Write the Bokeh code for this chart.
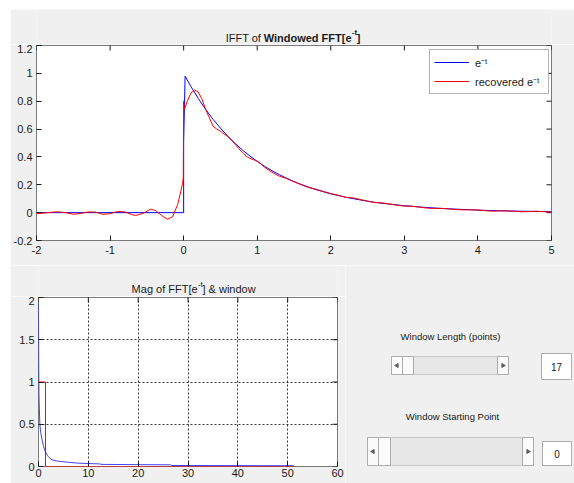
from bokeh.plotting import figure
from bokeh.layouts import column, row
from bokeh.models import Range1d, FixedTicker, Legend, LegendItem, Spacer
from bokeh.embed import file_html
from bokeh.resources import INLINE
from bokeh.core.properties import value

# ---- time signal e^-t (t in seconds) ----
t_orig = [-2.0, 0.0, 0.0, 0.02, 0.1, 0.2, 0.3, 0.4, 0.5, 0.6, 0.7, 0.8, 0.9,
          1.0, 1.1, 1.2, 1.3, 1.4, 1.5, 1.6, 1.7, 1.8, 1.9, 2.0, 2.2, 2.4,
          2.6, 2.8, 3.0, 3.25, 3.5, 3.75, 4.0, 4.25, 4.5, 4.75, 5.0]
x_orig = [0.0, 0.0, 0.5, 0.98, 0.905, 0.819, 0.741, 0.670, 0.607, 0.549,
          0.497, 0.449, 0.407, 0.368, 0.333, 0.301, 0.273, 0.247, 0.223,
          0.202, 0.183, 0.165, 0.150, 0.135, 0.111, 0.091, 0.074, 0.061,
          0.050, 0.039, 0.030, 0.024, 0.018, 0.014, 0.011, 0.009, 0.007]

# ---- signal recovered from the windowed spectrum ----
t_rec = [-2.0, -1.9, -1.8, -1.7, -1.6, -1.5, -1.4, -1.3, -1.2, -1.1, -1.0,
         -0.9, -0.8, -0.7, -0.65, -0.55, -0.45, -0.38, -0.3, -0.22, -0.15,
         -0.08, -0.04, -0.015, -0.005, 0.0, 0.01, 0.05, 0.1, 0.15, 0.2, 0.25,
         0.3, 0.35, 0.4, 0.45, 0.5, 0.55, 0.6, 0.66, 0.7, 0.75, 0.8, 0.85,
         0.9, 0.95, 1.0, 1.05, 1.1, 1.2, 1.3, 1.4, 1.5, 1.6, 1.7, 1.8, 1.9,
         2.0, 2.1, 2.2, 2.3, 2.4, 2.5, 2.6, 2.7, 2.8, 2.9, 3.0, 3.1, 3.2,
         3.3, 3.4, 3.5, 3.6, 3.7, 3.8, 3.9, 4.0, 4.1, 4.2, 4.3, 4.4, 4.5,
         4.6, 4.7, 4.8, 4.9, 5.0]
x_rec = [-0.008, -0.003, 0.003, 0.006, 0.0, -0.012, -0.006, 0.005, 0.004,
         -0.012, -0.008, 0.008, 0.006, -0.015, -0.02, -0.005, 0.025, 0.015,
         -0.02, -0.048, -0.03, 0.06, 0.15, 0.21, 0.25, 0.8, 0.74, 0.8, 0.86,
         0.88, 0.865, 0.815, 0.74, 0.68, 0.62, 0.6, 0.585, 0.565, 0.545,
         0.515, 0.49, 0.46, 0.43, 0.405, 0.39, 0.38, 0.37, 0.35, 0.325, 0.29,
         0.262, 0.245, 0.222, 0.2, 0.18, 0.168, 0.152, 0.137, 0.125, 0.11,
         0.106, 0.095, 0.082, 0.072, 0.07, 0.062, 0.053, 0.047, 0.046, 0.04,
         0.033, 0.03, 0.031, 0.027, 0.022, 0.02, 0.021, 0.019, 0.014, 0.01,
         0.013, 0.012, 0.01, 0.006, 0.008, 0.01, 0.007, 0.003]

# ---- spectrum magnitude and rectangular window ----
f_mag = [0.0, 0.05, 0.1, 0.27, 0.45, 0.74, 1.0, 1.4, 2.0, 2.4, 3.0, 3.6,
         4.4, 6.0, 7.8, 10.0, 12.4, 12.5, 15.0, 20.0, 26.5, 26.7, 35.0, 45.0,
         51.3]
mag = [1.93, 1.2, 0.82, 0.5, 0.4, 0.31, 0.24, 0.17, 0.115, 0.09, 0.075,
       0.066, 0.06, 0.05, 0.04, 0.035, 0.03, 0.025, 0.024, 0.022, 0.02,
       0.012, 0.011, 0.01, 0.009]
f_win = [0.0, 1.4, 1.4, 51.3]
win = [1.0, 1.0, 0.0, 0.0]

# ---- ticks ----
top_xticks = [-2, -1, 0, 1, 2, 3, 4, 5]
top_xlabels = ["-2", "-1", "0", "1", "2", "3", "4", "5"]
top_yticks = [-0.2, 0, 0.2, 0.4, 0.6, 0.8, 1, 1.2]
top_ylabels = ["-0.2", "0", "0.2", "0.4", "0.6", "0.8", "1", "1.2"]
bot_xticks = [0, 10, 20, 30, 40, 50, 60]
bot_xlabels = ["0", "10", "20", "30", "40", "50", "60"]
bot_yticks = [0, 0.5, 1, 1.5, 2]
bot_ylabels = ["0", "0.5", "1", "1.5", "2"]

# ---- control values ----
window_length = "17"
window_start = "0"

FONT = "Liberation Sans"
BG = "#f0f0f0"
INK = "#1a1a1a"


def box_axes(p, xt, xl, yt, yl, xstand, ystand):
    xa, ya = p.xaxis[0], p.yaxis[0]
    xa.ticker = FixedTicker(ticks=xt)
    ya.ticker = FixedTicker(ticks=yt)
    xa.major_label_overrides = {v: s for v, s in zip(xt, xl)}
    ya.major_label_overrides = {v: s for v, s in zip(yt, yl)}
    xa.major_label_standoff = xstand
    ya.major_label_standoff = ystand
    for ax in (xa, ya):
        ax.major_label_text_font_size = "11px"
        ax.major_label_text_font = FONT
        ax.major_label_text_color = INK
        ax.axis_line_color = None
        ax.major_tick_in = 5
        ax.major_tick_out = 0
        ax.major_tick_line_color = INK
        ax.minor_tick_line_color = None
    # inward ticks on the top and right edges of the box; the half of each
    # 10px dash that falls outside the frame is clipped away
    x1 = p.x_range.end
    y1 = p.y_range.end
    p.scatter(xt, [y1] * len(xt), marker="dash", size=10, angle=1.5708,
              line_color=INK, line_width=1)
    p.scatter([x1] * len(yt), yt, marker="dash", size=10,
              line_color=INK, line_width=1)
    p.outline_line_color = "#7a7a7a"
    p.outline_line_alpha = 1.0


def strip(width, height, x0, y0):
    """Plain gray band addressed in page pixels (y grows downward)."""
    s = figure(width=width, height=height, x_range=Range1d(x0, x0 + width),
               y_range=Range1d(y0 + height, y0), output_backend="svg",
               toolbar_location=None, x_axis_type=None, y_axis_type=None,
               min_border=0, background_fill_color=BG, border_fill_color=BG)
    s.grid.visible = False
    s.outline_line_color = None
    return s


def words(s, x, y, txt, size, style="normal", align="left",
          baseline="alphabetic"):
    s.text(x=[x], y=[y], text=[txt], text_font=value(FONT),
           text_font_size=value(size), text_font_style=value(style),
           text_align=value(align), text_baseline=value(baseline),
           text_color=INK)


# =================== top: time domain ===================
# title pieces are chained from the point where the superscript starts
top_title = strip(564, 35, 10, 9)
E = 355.0
words(top_title, E, 37, "Windowed FFT[e", "11px", "bold", align="right")
words(top_title, E + 0.3, 32, "-t", "8px", "bold")
words(top_title, E + 5.6, 37, "]", "11px", "bold")
words(top_title, E - 99.0, 37, "IFFT of", "11px", align="right")

top = figure(width=564, height=221, x_range=Range1d(-2, 5),
             y_range=Range1d(-0.2, 1.2), output_backend="svg",
             toolbar_location=None, min_border_left=26, min_border_right=23,
             min_border_top=1, min_border_bottom=25,
             background_fill_color="white", border_fill_color=BG)
top.grid.visible = False
box_axes(top, top_xticks, top_xlabels, top_yticks, top_ylabels, 5, 4)

r_orig = top.line(t_orig, x_orig, color="#0000ff", line_width=1)
r_rec = top.line(t_rec, x_rec, color="#ff0000", line_width=1)

legend = Legend(items=[LegendItem(label="e\u207b\u1d57", renderers=[r_orig]),
                       LegendItem(label="recovered e\u207b\u1d57", renderers=[r_rec])],
                location=(393, 146), glyph_width=35, glyph_height=16,
                label_height=16, label_width=69, spacing=3, padding=4,
                margin=0, label_standoff=6, label_text_font=FONT,
                label_text_font_size="11px", label_text_color=INK,
                border_line_color="#6a6a6a", background_fill_color="white",
                background_fill_alpha=1.0)
top.add_layout(legend)

# =================== bottom left: spectrum ===================
bot_title = strip(335, 31, 10, 265)
S = 188.3
words(bot_title, S, 288.5, "Mag of FFT[e", "11px", align="right")
words(bot_title, S + 0.3, 283.5, "-t", "8px")
words(bot_title, S + 5.4, 288.5, "] & window", "11px")

bot = figure(width=335, height=187, x_range=Range1d(0, 60),
             y_range=Range1d(0, 2), output_backend="svg",
             toolbar_location=None, min_border_left=28, min_border_right=8,
             min_border_top=1, min_border_bottom=17,
             background_fill_color="white", border_fill_color=BG)
box_axes(bot, bot_xticks, bot_xlabels, bot_yticks, bot_ylabels, 2, 4)
bot.xgrid.ticker = FixedTicker(ticks=bot_xticks)
bot.ygrid.ticker = FixedTicker(ticks=bot_yticks)
bot.grid.grid_line_color = "#222222"
bot.grid.grid_line_dash = "2 2"
bot.grid.grid_line_alpha = 0.9

bot.line(f_mag, mag, color="#0000ff", line_width=1, line_alpha=0.75)
bot.line(f_win, win, color="#ff0000", line_width=1)

# =================== bottom right: window controls ===================
ctl = strip(229, 218, 345, 265)


def slider(left, right, top_, bottom, btn, thumb_l, thumb_r):
    ctl.quad(left=[left], right=[right], top=[top_], bottom=[bottom],
             fill_color="#e7e7e7", line_color="#c9c9c9")
    ctl.quad(left=[left, right - btn, thumb_l],
             right=[left + btn, right, thumb_r],
             top=[top_] * 3, bottom=[bottom] * 3,
             fill_color="#fbfbfb", line_color="#adadad")
    yc = (top_ + bottom) / 2
    ctl.scatter([left + btn / 2], [yc], marker="triangle", size=4,
                angle=1.5708, color="#606060")
    ctl.scatter([right - btn / 2], [yc], marker="triangle", size=4,
                angle=-1.5708, color="#606060")


def edit_box(left, right, top_, bottom, txt):
    ctl.quad(left=[left], right=[right], top=[top_], bottom=[bottom],
             fill_color="white", line_color="#acacac")
    words(ctl, (left + right) / 2, (top_ + bottom) / 2, txt, "10px",
          align="center", baseline="middle")


words(ctl, 450, 336, "Window Length (points)", "9.5px", align="center",
      baseline="middle")
slider(391, 508, 356, 374, 11, 402, 413)
edit_box(541, 571, 353, 379, window_length)

words(ctl, 452, 416, "Window Starting Point", "9.5px", align="center",
      baseline="middle")
slider(367, 533, 437, 465, 11, 378, 390)
edit_box(542, 571, 441, 465, window_start)

layout = column(Spacer(height=9),
                row(Spacer(width=10),
                    column(top_title, top,
                           row(column(bot_title, bot), ctl))))

open("out.html", "w").write(file_html(layout, INLINE))
